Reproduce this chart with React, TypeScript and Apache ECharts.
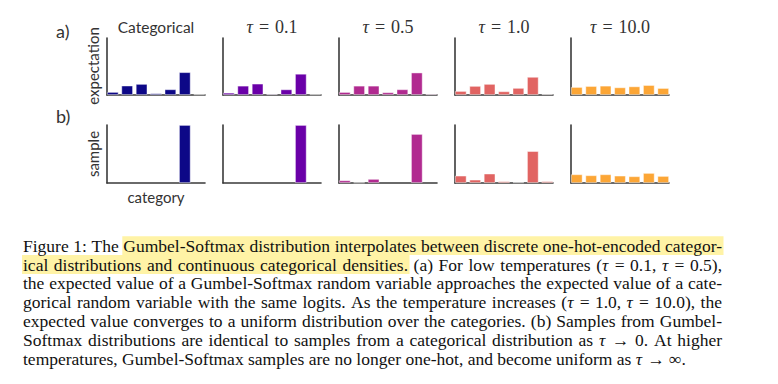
import React, { useEffect, useRef } from 'react';
import * as echarts from 'echarts';

// ---------- data ----------
const categories = [0, 1, 2, 3, 4, 5, 6];
const panelTitles = ['Categorical', 'τ = 0.1', 'τ = 0.5', 'τ = 1.0', 'τ = 10.0'];
const panelColors = ['#0d0887', '#6a00a8', '#b12a90', '#e16462', '#fca636'];

const expCategorical = [0.053, 0.165, 0.194, 0.029, 0.1, 0.4, 0.012];
const expTau01 = [0.04, 0.163, 0.198, 0.017, 0.099, 0.372, 0.012];
const expTau05 = [0.052, 0.163, 0.163, 0.047, 0.1, 0.394, 0.018];
const expTau1 = [0.07, 0.159, 0.194, 0.065, 0.124, 0.318, 0.015];
const expTau10 = [0.14, 0.157, 0.163, 0.134, 0.151, 0.174, 0.122];

const sampleCategorical = [0, 0, 0, 0, 0, 1, 0];
const sampleTau01 = [0, 0, 0, 0, 0, 1, 0];
const sampleTau05 = [0.046, 0.008, 0.07, 0, 0, 0.845, 0];
const sampleTau1 = [0.127, 0.058, 0.162, 0.029, 0.012, 0.55, 0.03];
const sampleTau10 = [0.15, 0.133, 0.15, 0.127, 0.116, 0.173, 0.121];

const expectationRows = [expCategorical, expTau01, expTau05, expTau1, expTau10];
const sampleRows = [sampleCategorical, sampleTau01, sampleTau05, sampleTau1, sampleTau10];

const rowLabels = ['a)', 'b)'];
const rowNames = ['expectation', 'sample'];
const xName = 'category';

const captionLines = [
  'Figure 1: The Gumbel-Softmax distribution interpolates between discrete one-hot-encoded categor-',
  'ical distributions and continuous categorical densities. (a) For low temperatures (τ = 0.1, τ = 0.5),',
  'the expected value of a Gumbel-Softmax random variable approaches the expected value of a cate-',
  'gorical random variable with the same logits. As the temperature increases (τ = 1.0, τ = 10.0), the',
  'expected value converges to a uniform distribution over the categories. (b) Samples from Gumbel-',
  'Softmax distributions are identical to samples from a categorical distribution as τ → 0. At higher',
  'temperatures, Gumbel-Softmax samples are no longer one-hot, and become uniform as τ → ∞.',
];

// ---------- layout ----------
const PANEL_LEFT0 = 107;
const PANEL_STEP = 116;
const PANEL_W = 98;
const ROW_TOP = [38, 125];
const ROW_H = [57, 58];

const CAP_FONT = 17.5;
const CAP_LEFT = 23;
const CAP_RIGHT = 722;
const CAP_TOP = 245.7;
const CAP_LH = 18.8;
const SERIF = '"Liberation Serif", "Times New Roman", serif';
const SANS = 'Lato, "Open Sans", sans-serif';
const LABEL_COLOR = '#333333';

function richTau(w: string) {
  return w.replace(/τ/g, '{i|τ}');
}

export default function App() {
  const ref = useRef<HTMLDivElement>(null);
  useEffect(() => {
    if (!ref.current) return;
    const chart = echarts.init(ref.current, undefined, { renderer: 'svg' });

    const grids: any[] = [];
    const xAxes: any[] = [];
    const yAxes: any[] = [];
    const series: any[] = [];
    const axisLine = { show: true, onZero: false, lineStyle: { color: '#3a3a3a', width: 1.6 } };
    [expectationRows, sampleRows].forEach((rows, r) => {
      rows.forEach((vals, c) => {
        const idx = grids.length;
        grids.push({ left: PANEL_LEFT0 + PANEL_STEP * c, top: ROW_TOP[r], width: PANEL_W, height: ROW_H[r] });
        xAxes.push({
          type: 'value', gridIndex: idx, min: -0.4, max: 6.4,
          axisLine, axisTick: { show: false }, axisLabel: { show: false }, splitLine: { show: false },
        });
        yAxes.push({
          type: 'value', gridIndex: idx, min: 0, max: 1,
          axisLine, axisTick: { show: false }, axisLabel: { show: false }, splitLine: { show: false },
        });
        series.push({
          type: 'bar', xAxisIndex: idx, yAxisIndex: idx, barWidth: 11.6,
          data: vals.map((v, k) => [categories[k], v === 0 ? '-' : v]),
          itemStyle: { color: panelColors[c], borderColor: 'rgba(255,255,255,0.55)', borderWidth: 0.8 },
          z: 1,
        });
      });
    });

    const graphics: any[] = [];
    // titles
    panelTitles.forEach((t, c) => {
      const cx = PANEL_LEFT0 + PANEL_STEP * c + PANEL_W / 2;
      if (c === 0) {
        graphics.push({ type: 'text', x: cx, y: 27, style: { text: t, fontFamily: SANS, fontSize: 15.5, fill: LABEL_COLOR, align: 'center', verticalAlign: 'middle' } });
      } else {
        graphics.push({
          type: 'text', x: cx, y: 27,
          style: {
            text: richTau(t.replace(/ /g, '\u2004')), fontFamily: SERIF, fontSize: 18, fill: LABEL_COLOR, align: 'center', verticalAlign: 'middle',
            rich: { i: { fontStyle: 'italic', fontFamily: SERIF, fontSize: 18, fill: LABEL_COLOR } },
          },
        });
      }
    });
    // row labels
    graphics.push({ type: 'text', x: 56, y: 31, style: { text: rowLabels[0], fontFamily: SANS, fontSize: 18, fill: LABEL_COLOR, verticalAlign: 'middle' } });
    graphics.push({ type: 'text', x: 56, y: 116, style: { text: rowLabels[1], fontFamily: SANS, fontSize: 18, fill: LABEL_COLOR, verticalAlign: 'middle' } });
    // y names
    graphics.push({ type: 'text', x: 93, y: 66, rotation: Math.PI / 2, style: { text: rowNames[0], fontFamily: SANS, fontSize: 15, fill: LABEL_COLOR, align: 'center', verticalAlign: 'middle' } });
    graphics.push({ type: 'text', x: 93, y: 154, rotation: Math.PI / 2, style: { text: rowNames[1], fontFamily: SANS, fontSize: 15, fill: LABEL_COLOR, align: 'center', verticalAlign: 'middle' } });
    // x name
    graphics.push({ type: 'text', x: 156, y: 197, style: { text: xName, fontFamily: SANS, fontSize: 15, fill: LABEL_COLOR, align: 'center', verticalAlign: 'middle' } });

    // caption with justification
    const canvas = document.createElement('canvas');
    const ctx = canvas.getContext('2d')!;
    ctx.font = `${CAP_FONT}px "Liberation Serif"`;
    const spaceW = ctx.measureText(' ').width;
    const highlights: any[] = [];
    captionLines.forEach((line, li) => {
      const words = line.split(' ');
      const widths = words.map((w) => ctx.measureText(w).width);
      const total = widths.reduce((a, b) => a + b, 0);
      const justify = li < captionLines.length - 1;
      const gap = justify ? (CAP_RIGHT - CAP_LEFT - total) / (words.length - 1) : spaceW;
      const y = CAP_TOP + li * CAP_LH;
      let x = CAP_LEFT;
      words.forEach((w, wi) => {
        if (li === 0 && w === 'Gumbel-Softmax') {
          highlights.push({ type: 'rect', z: 0, shape: { x: x - 1, y: y - CAP_LH / 2, width: CAP_RIGHT + 1.5 - (x - 1), height: CAP_LH }, style: { fill: '#fff3a6' } });
        }
        if (li === 1 && w === 'densities.') {
          highlights.push({ type: 'rect', z: 0, shape: { x: CAP_LEFT - 1, y: y - CAP_LH / 2, width: x + widths[wi] + 1.5 - (CAP_LEFT - 1), height: CAP_LH }, style: { fill: '#fff3a6' } });
        }
        graphics.push({
          type: 'text', x, y, z: 2,
          style: {
            text: richTau(w), fontFamily: SERIF, fontSize: CAP_FONT, fill: '#111', verticalAlign: 'middle',
            rich: { i: { fontStyle: 'italic', fontFamily: SERIF, fontSize: CAP_FONT, fill: '#111' } },
          },
        });
        x += widths[wi] + gap;
      });
    });

    chart.setOption({
      animation: false,
      backgroundColor: '#ffffff',
      grid: grids,
      xAxis: xAxes,
      yAxis: yAxes,
      series,
      graphic: [...highlights, ...graphics],
    });
    return () => chart.dispose();
  }, []);
  return <div ref={ref} style={{ position: 'fixed', left: 0, top: 0, width: 778, height: 384, background: '#fff' }} />;
}
